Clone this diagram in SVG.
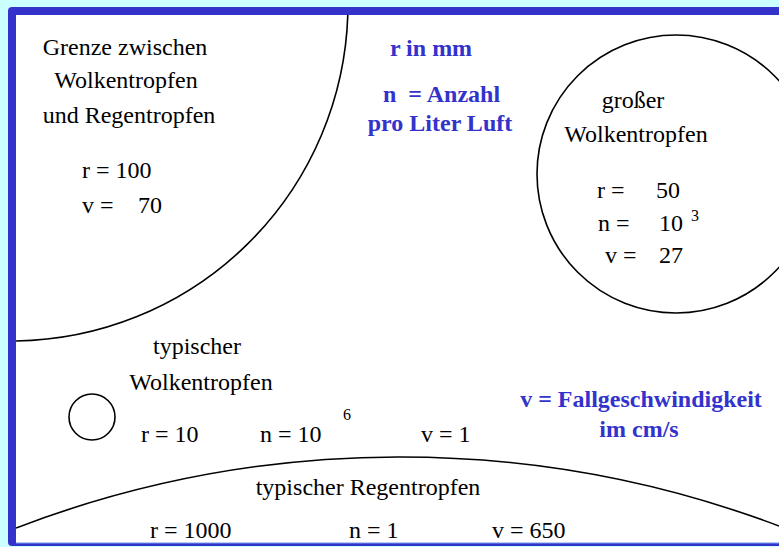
<svg xmlns="http://www.w3.org/2000/svg" width="779" height="547" viewBox="0 0 779 547">
<style>
.t{font-family:"Liberation Serif","Times New Roman",serif;font-size:24px;fill:#000}
.sup{font-family:"Liberation Serif","Times New Roman",serif;font-size:16px;fill:#000}
.b{font-family:"Liberation Serif","Times New Roman",serif;font-size:24px;font-weight:bold;fill:#3333cc}
.c{text-anchor:middle}
.line{fill:none;stroke:#000;stroke-width:1.6}
</style>
<defs>
<clipPath id="area"><rect x="16" y="15" width="763" height="528"/></clipPath>
</defs>
<rect x="0" y="0" width="779" height="547" fill="#ccffff"/>
<rect x="8" y="7" width="790" height="539" rx="4" fill="#3333cc"/>
<rect x="16" y="15" width="770" height="528" fill="#ffffff"/>
<rect x="16" y="542.5" width="770" height="1" fill="#7799ee"/>

<g id="grenze" clip-path="url(#area)">
<path class="line" d="M347.8,15 A337,337 0 0 1 16,341"/>
<text class="t c" x="125" y="55">Grenze zwischen</text>
<text class="t c" x="126" y="88">Wolkentropfen</text>
<text class="t c" x="129" y="123">und Regentropfen</text>
<text class="t" x="82" y="178">r = 100</text>
<text class="t" x="82" y="213">v =</text>
<text class="t" x="138" y="213">70</text>
</g>

<g id="legende">
<text class="b c" x="431" y="56">r in mm</text>
<text class="b" x="383" y="102" xml:space="preserve">n  = Anzahl</text>
<text class="b c" x="440" y="131">pro Liter Luft</text>
<text class="b c" x="641" y="407">v = Fallgeschwindigkeit</text>
<text class="b c" x="639" y="437">im cm/s</text>
</g>

<g id="grosser-wolkentropfen">
<circle class="line" cx="676" cy="174" r="139"/>
<text class="t c" x="633" y="108">großer</text>
<text class="t c" x="636" y="142">Wolkentropfen</text>
<text class="t" x="597" y="198">r =</text>
<text class="t" x="656" y="198">50</text>
<text class="t" x="598" y="231">n =</text>
<text class="t" x="659" y="231">10</text>
<text class="sup" x="691" y="221">3</text>
<text class="t" x="605" y="263">v =</text>
<text class="t" x="659" y="263">27</text>
</g>

<g id="typischer-wolkentropfen">
<circle class="line" cx="92" cy="417" r="23"/>
<text class="t c" x="197" y="354">typischer</text>
<text class="t c" x="201" y="390">Wolkentropfen</text>
<text class="t" x="141" y="442">r = 10</text>
<text class="t" x="260" y="442">n = 10</text>
<text class="sup" x="343" y="420">6</text>
<text class="t" x="421" y="442">v = 1</text>
</g>

<g id="typischer-regentropfen" clip-path="url(#area)">
<path class="line" d="M16,528 A1074,1074 0 0 1 779,526"/>
<text class="t c" x="368" y="495">typischer Regentropfen</text>
<text class="t" x="150" y="538">r = 1000</text>
<text class="t" x="349" y="538">n = 1</text>
<text class="t" x="492" y="538">v = 650</text>
</g>
</svg>
